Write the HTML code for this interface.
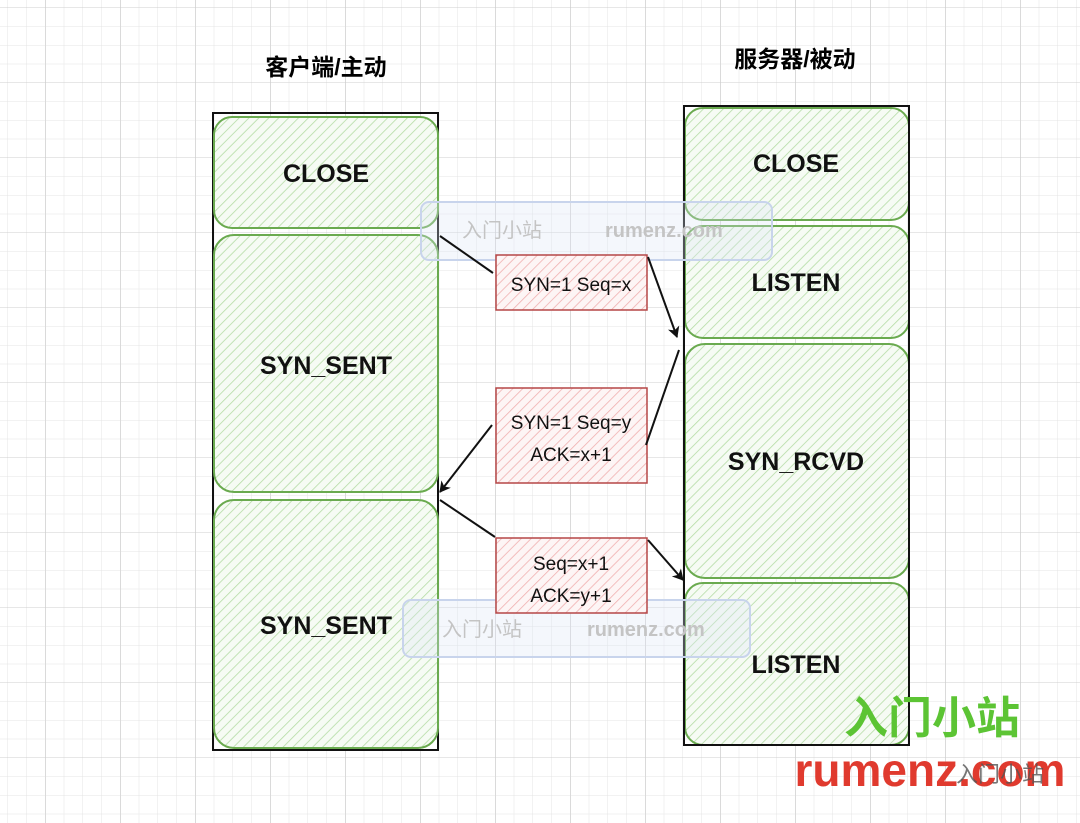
<!DOCTYPE html>
<html><head><meta charset="utf-8"><style>
html,body{margin:0;padding:0;background:#fff}
svg{display:block}
text{font-family:"Liberation Sans","Noto Sans CJK SC",sans-serif}
</style></head><body>
<svg width="1080" height="823" viewBox="0 0 1080 823" xmlns="http://www.w3.org/2000/svg">
<defs>
<pattern id="gmin" x="8" y="8" width="18.75" height="18.75" patternUnits="userSpaceOnUse">
<path d="M18.75 0V18.75M0 18.75H18.75" stroke="#e4e4e4" stroke-width="1" fill="none"/>
</pattern>
<pattern id="gmaj" x="46" y="8" width="75" height="75" patternUnits="userSpaceOnUse">
<path d="M75 0V75M0 75H75" stroke="#cfcfcf" stroke-width="1" fill="none"/>
</pattern>
<pattern id="hg" width="7" height="7" patternUnits="userSpaceOnUse" patternTransform="rotate(45)">
<rect width="7" height="7" fill="#f6fbf4"/>
<line x1="0" y1="0" x2="0" y2="7" stroke="#b5dca6" stroke-width="1.6"/>
</pattern>
<pattern id="hr" width="7" height="7" patternUnits="userSpaceOnUse" patternTransform="rotate(45)">
<rect width="7" height="7" fill="#fdf5f5"/>
<line x1="0" y1="0" x2="0" y2="7" stroke="#f0b0b0" stroke-width="1.6"/>
</pattern>
<marker id="ar" markerWidth="12" markerHeight="12" refX="10" refY="6" orient="auto" markerUnits="userSpaceOnUse">
<path d="M0 0 L11 6 L0 12 L3 6Z" fill="#111"/>
</marker>
</defs>
<rect width="1080" height="823" fill="url(#gmin)"/>
<rect width="1080" height="823" fill="url(#gmaj)"/>

<text x="326" y="75" font-size="23" font-weight="bold" text-anchor="middle">客户端/主动</text>
<text x="795" y="67" font-size="23" font-weight="bold" text-anchor="middle">服务器/被动</text>

<rect x="213" y="113" width="225" height="637" fill="none" stroke="#111" stroke-width="2"/>
<g stroke="#6aaa4f" stroke-width="2" fill="url(#hg)">
<rect x="214" y="117" width="224" height="111" rx="18"/>
<rect x="214" y="235" width="224" height="257" rx="20"/>
<rect x="214" y="500" width="224" height="248" rx="20"/>
<rect x="685" y="108" width="224" height="112" rx="18"/>
<rect x="685" y="226" width="224" height="112" rx="18"/>
<rect x="685" y="344" width="224" height="234" rx="20"/>
<rect x="685" y="583" width="224" height="162" rx="18"/>
</g>
<rect x="684" y="106" width="225" height="639" fill="none" stroke="#111" stroke-width="2"/>

<g font-size="25" font-weight="bold" text-anchor="middle" fill="#111">
<text x="326" y="182">CLOSE</text>
<text x="326" y="374">SYN_SENT</text>
<text x="326" y="634">SYN_SENT</text>
<text x="796" y="172">CLOSE</text>
<text x="796" y="291">LISTEN</text>
<text x="796" y="470">SYN_RCVD</text>
<text x="796" y="673">LISTEN</text>
</g>

<rect x="421" y="202" width="351" height="58" rx="8" fill="rgba(220,228,245,0.3)" stroke="#c8d4ec" stroke-width="2"/>
<text x="462" y="237" font-size="20" fill="#c4c4c4">入门小站</text>
<text x="605" y="237" font-size="20" font-weight="bold" fill="#c4c4c4">rumenz.com</text>
<rect x="403" y="600" width="347" height="57" rx="8" fill="rgba(220,228,245,0.3)" stroke="#c8d4ec" stroke-width="2"/>
<text x="442" y="636" font-size="20" fill="#c4c4c4">入门小站</text>
<text x="587" y="636" font-size="20" font-weight="bold" fill="#c4c4c4">rumenz.com</text>

<g stroke="#b54747" stroke-width="1.5" fill="url(#hr)">
<rect x="496" y="255" width="151" height="55"/>
<rect x="496" y="388" width="151" height="95"/>
<rect x="496" y="538" width="151" height="75"/>
</g>
<g font-size="19" text-anchor="middle" fill="#111">
<text x="571" y="291">SYN=1 Seq=x</text>
<text x="571" y="429">SYN=1 Seq=y</text>
<text x="571" y="461">ACK=x+1</text>
<text x="571" y="570">Seq=x+1</text>
<text x="571" y="602">ACK=y+1</text>
</g>

<g stroke="#111" stroke-width="2" fill="none">
<line x1="440" y1="236" x2="493" y2="273"/>
<line x1="648" y1="257" x2="677" y2="337" marker-end="url(#ar)"/>
<line x1="679" y1="350" x2="646" y2="445"/>
<line x1="492" y1="425" x2="440" y2="492" marker-end="url(#ar)"/>
<line x1="440" y1="500" x2="495" y2="537"/>
<line x1="648" y1="540" x2="683" y2="580" marker-end="url(#ar)"/>
</g>

<text x="932" y="733" font-size="44" font-weight="bold" fill="#5cc434" text-anchor="middle" font-family="Noto Sans CJK SC, sans-serif">入门小站</text>
<text x="930" y="786" font-size="46" font-weight="bold" fill="#e03a2e" text-anchor="middle">rumenz.com</text>
<text x="1000" y="782" font-size="22" fill="#555" text-anchor="middle" opacity="0.8">入门小站</text>
</svg>
</body></html>
